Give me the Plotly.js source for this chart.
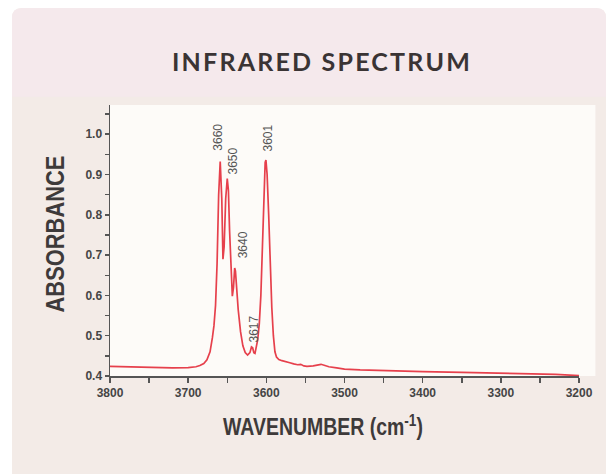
<!DOCTYPE html>
<html>
<head>
<meta charset="utf-8">
<script src="https://cdn.plot.ly/plotly-3.0.1.min.js"></script>
<style>
html,body{margin:0;padding:0;background:#ffffff;}
#chart{width:611px;height:474px;}
#chart .gtitle { letter-spacing: 2.2px; }
</style>
</head>
<body>
<div id="chart"></div>
<script>
// Wavenumber (cm^-1) and absorbance
var wavenumber = [3800,3780,3760,3740,3720,3700,3690,3685,3680,3676,3672,3669,3667,3665,3663,3661,3660,3659,3657,3655.5,3654,3652,3650,3648.5,3647,3645,3643.5,3642,3640.5,3639.5,3638,3636,3633,3630,3627,3624,3621,3619,3617.5,3616,3614.5,3613,3611,3609,3607,3605,3603,3601.5,3600.5,3599,3597,3595,3593,3591,3589,3587,3584,3580,3575,3570,3565,3560,3556,3552,3548,3544,3540,3535,3530,3525,3520,3510,3500,3480,3450,3400,3350,3300,3260,3230,3200];
var absorbance = [0.424,0.423,0.422,0.421,0.420,0.421,0.423,0.426,0.431,0.440,0.460,0.495,0.525,0.575,0.68,0.85,0.925,0.932,0.84,0.69,0.72,0.84,0.89,0.86,0.76,0.64,0.598,0.62,0.668,0.66,0.61,0.565,0.51,0.475,0.458,0.452,0.458,0.472,0.470,0.458,0.456,0.47,0.49,0.53,0.60,0.72,0.86,0.93,0.936,0.90,0.80,0.68,0.57,0.50,0.46,0.447,0.441,0.438,0.436,0.433,0.430,0.428,0.429,0.425,0.424,0.424,0.425,0.427,0.429,0.426,0.423,0.420,0.417,0.415,0.413,0.411,0.409,0.407,0.406,0.404,0.401];

// Peak labels
var peakLabels = ["3660","3650","3640","3617","3601"];
var peakLabelX = [3661.5,3643.0,3630.2,3616.2,3598.3];
var peakLabelY = [0.992,0.934,0.726,0.517,0.991];

var xTickVals = [3800,3700,3600,3500,3400,3300,3200];
var yTickVals = [0.4,0.5,0.6,0.7,0.8,0.9,1.0];

var boldSans = "'Liberation Sans', Arial, sans-serif";

var trace = {
  x: wavenumber,
  y: absorbance,
  type: 'scatter',
  mode: 'lines',
  line: {color: '#e6404c', width: 1.7},
  hoverinfo: 'skip'
};

var annotations = peakLabels.map(function(t, i){
  return {
    x: peakLabelX[i], y: peakLabelY[i], xref: 'x', yref: 'y',
    text: t, showarrow: false, textangle: -90,
    xanchor: 'center', yanchor: 'middle',
    font: {family: boldSans, size: 12, color: '#555555'}
  };
});

// Rounded panel path in paper coordinates
function roundedPath(x0, x1, y0, y1, dx, dy, roundBottom) {
  var p = 'M ' + x0 + ',' + (y1 - dy) +
    ' Q ' + x0 + ',' + y1 + ' ' + (x0 + dx) + ',' + y1 +
    ' L ' + (x1 - dx) + ',' + y1 +
    ' Q ' + x1 + ',' + y1 + ' ' + x1 + ',' + (y1 - dy);
  if (roundBottom) {
    p += ' L ' + x1 + ',' + (y0 + dy) +
      ' Q ' + x1 + ',' + y0 + ' ' + (x1 - dx) + ',' + y0 +
      ' L ' + (x0 + dx) + ',' + y0 +
      ' Q ' + x0 + ',' + y0 + ' ' + x0 + ',' + (y0 + dy) + ' Z';
  } else {
    p += ' L ' + x1 + ',' + y0 + ' L ' + x0 + ',' + y0 + ' Z';
  }
  return p;
}
var PX0 = -0.209, PX1 = 1.0576, PY0 = -0.3616, PY1 = 1.358, RDX = 0.0213, RDY = 0.0369;

var layout = {
  width: 611, height: 474,
  margin: {l: 110, r: 32, t: 105, b: 98},
  paper_bgcolor: '#ffffff',
  plot_bgcolor: 'rgba(0,0,0,0)',
  showlegend: false,
  title: {
    text: 'INFRARED SPECTRUM',
    x: 0.527, xanchor: 'center', y: 0.868, yanchor: 'middle',
    font: {family: 'Lato, "Open Sans", sans-serif', size: 25, color: '#3a3434', weight: 700}
  },
  xaxis: {
    range: [3800, 3200],
    tickvals: xTickVals,
    ticktext: xTickVals.map(String),
    ticks: 'outside', ticklen: 5, tickwidth: 1.5, tickcolor: '#555555',
    minor: {dtick: 50, tick0: 3800, ticks: 'outside', ticklen: 5, tickwidth: 1.5, tickcolor: '#555555', showgrid: false},
    showline: true, linecolor: '#555555', linewidth: 1.5,
    showgrid: false, zeroline: false,
    tickfont: {family: boldSans, size: 12, color: '#454545', weight: 'bold'},
    title: {text: 'WAVENUMBER (cm<sup>-1</sup>)', standoff: 20,
      font: {family: boldSans, size: 23, color: '#3e3a3a', weight: 'bold'}},
    automargin: false,
    fixedrange: true
  },
  yaxis: {
    range: [0.4, 1.0725],
    tickvals: yTickVals,
    ticktext: yTickVals.map(function(v){return v.toFixed(1);}),
    ticks: 'outside', ticklen: 4, tickwidth: 1.5, tickcolor: '#555555',
    minor: {dtick: 0.05, tick0: 0.4, ticks: 'outside', ticklen: 4, tickwidth: 1.5, tickcolor: '#555555', showgrid: false},
    showline: true, linecolor: '#555555', linewidth: 1.5,
    showgrid: false, zeroline: false,
    tickfont: {family: boldSans, size: 12, color: '#454545', weight: 'bold'},
    title: {text: 'ABSORBANCE', standoff: 12,
      font: {family: boldSans, size: 25, color: '#3e3a3a', weight: 'bold'}},
    automargin: false,
    fixedrange: true
  },
  shapes: [
    {type: 'path', xref: 'paper', yref: 'paper', layer: 'below',
     path: roundedPath(PX0, PX1, PY0, PY1, RDX, RDY, false),
     fillcolor: '#f3ebe7', line: {width: 0}},
    {type: 'path', xref: 'paper', yref: 'paper', layer: 'below',
     path: roundedPath(PX0, PX1, 1.03, PY1, RDX, RDY, false),
     fillcolor: '#f5e9ec', line: {width: 0}},
    {type: 'rect', xref: 'paper', yref: 'paper', layer: 'below',
     x0: 0, x1: 1.035, y0: 0, y1: 1.0,
     fillcolor: '#fdfbf8', line: {width: 0}}
  ],
  annotations: annotations
};

// Condense the axis titles horizontally (reference uses a condensed bold face)
function condense(gd){
  var xt = gd.querySelector('.xtitle');
  if (xt) {
    var b = xt.getBBox();
    var cx = b.x + b.width / 2;
    var s = 200 / b.width;
    xt.setAttribute('transform', 'translate(323,0) scale(' + s + ',1) translate(' + (-cx) + ',0)');
  }
  var yt = gd.querySelector('.ytitle');
  if (yt) {
    var c = yt.getBBox();
    var ccx = c.x + c.width / 2, ccy = c.y + c.height / 2;
    var s2 = 157 / c.width;
    yt.setAttribute('transform', 'translate(55,234) rotate(-90) scale(' + s2 + ',1) translate(' + (-ccx) + ',' + (-ccy) + ')');
  }
}

Plotly.newPlot('chart', [trace], layout, {staticPlot: true, displayModeBar: false}).then(condense);
</script>
</body>
</html>
